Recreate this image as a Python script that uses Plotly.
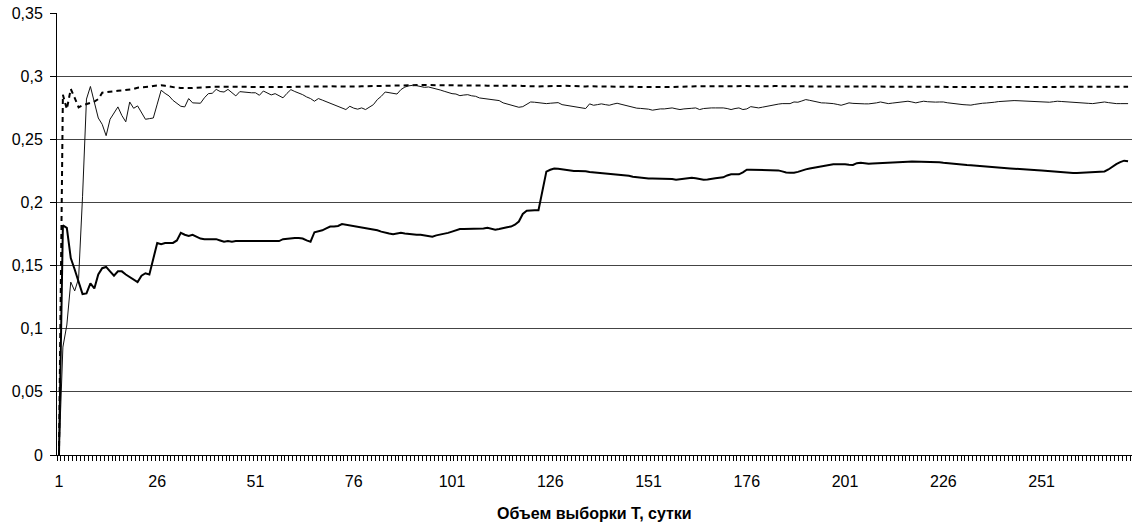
import plotly.graph_objects as go

# Series values, one per day (category 1..273)
thick = [
    0, 0.182, 0.180, 0.156, 0.147, 0.138, 0.1275, 0.128, 0.136, 0.132,
    0.143, 0.148, 0.149, 0.1455, 0.142, 0.1455, 0.1455, 0.143, 0.141, 0.139,
    0.137, 0.142, 0.144, 0.143, 0.155, 0.168, 0.167, 0.168, 0.168, 0.168,
    0.170, 0.176, 0.1745, 0.1735, 0.1745, 0.173, 0.1715, 0.171, 0.171, 0.171,
    0.171, 0.170, 0.169, 0.1695, 0.169, 0.1695, 0.1695, 0.1695, 0.1695, 0.1695,
    0.1695, 0.170, 0.170, 0.1695, 0.1695, 0.1695, 0.1695, 0.171, 0.1715, 0.172,
    0.172, 0.172, 0.1715, 0.170, 0.169, 0.1765, 0.177, 0.178, 0.1795, 0.181,
    0.181, 0.1815, 0.183, 0.1825, 0.182, 0.1815, 0.181, 0.180, 0.1795, 0.179,
    0.1785, 0.178, 0.177, 0.176, 0.1755, 0.175, 0.1755, 0.176, 0.1755, 0.175,
    0.175, 0.1745, 0.1745, 0.174, 0.1735, 0.173, 0.174, 0.1745, 0.175, 0.176,
    0.177, 0.178, 0.179, 0.179, 0.179, 0.179, 0.179, 0.179, 0.1795, 0.180,
    0.179, 0.1785, 0.179, 0.180, 0.1805, 0.181, 0.1825, 0.185, 0.191, 0.1935,
    0.194, 0.194, 0.194, 0.209, 0.2245, 0.226, 0.227, 0.2268, 0.2263, 0.226,
    0.2255, 0.225, 0.225, 0.225, 0.2248, 0.2243, 0.224, 0.2238, 0.2237, 0.2232,
    0.2228, 0.2224, 0.2222, 0.222, 0.2216, 0.2212, 0.2205, 0.220, 0.2197, 0.2193,
    0.219, 0.219, 0.219, 0.219, 0.219, 0.219, 0.2186, 0.218, 0.2184, 0.219,
    0.219, 0.2197, 0.2192, 0.2186, 0.218, 0.2183, 0.219, 0.2193, 0.2197, 0.220,
    0.2215, 0.2224, 0.2224, 0.2224, 0.224, 0.226, 0.226, 0.226, 0.226, 0.226,
    0.226, 0.226, 0.226, 0.2255, 0.2247, 0.2238, 0.2237, 0.2237, 0.2243, 0.2255,
    0.2263, 0.227, 0.2276, 0.2283, 0.229, 0.2297, 0.230, 0.2303, 0.2303, 0.2305,
    0.2303, 0.230, 0.2298, 0.2312, 0.2316, 0.2312, 0.2308, 0.231, 0.2312, 0.2315,
    0.2314, 0.2318, 0.232, 0.232, 0.2322, 0.2323, 0.2324, 0.2325, 0.2325, 0.2326,
    0.2326, 0.2325, 0.2324, 0.2322, 0.232, 0.2316, 0.2312, 0.2309, 0.2305, 0.2302,
    0.2299, 0.2297, 0.2295, 0.2292, 0.229, 0.2287, 0.2284, 0.2281, 0.2278, 0.2275,
    0.2273, 0.2271, 0.227, 0.2268, 0.2267, 0.2265, 0.2263, 0.2261, 0.226, 0.2257,
    0.2255, 0.2252, 0.2249, 0.2247, 0.2245, 0.2242, 0.224, 0.2237, 0.2234, 0.2235,
    0.2237, 0.2237, 0.2238, 0.224, 0.2242, 0.2244, 0.2247, 0.2262, 0.2285, 0.2305,
    0.232, 0.2332, 0.2328,
]

thin = [
    0, 0.0855, 0.103, 0.137, 0.130, 0.140, 0.205, 0.282, 0.292, 0.279,
    0.267, 0.262, 0.253, 0.266, 0.271, 0.2758, 0.269, 0.264, 0.2797, 0.2747,
    0.2766, 0.271, 0.266, 0.2665, 0.267, 0.278, 0.289, 0.2865, 0.2845, 0.281,
    0.279, 0.2763, 0.2758, 0.2824, 0.279, 0.2788, 0.2787, 0.283, 0.2863, 0.2866,
    0.2897, 0.288, 0.2876, 0.2897, 0.287, 0.2845, 0.2879, 0.2875, 0.287, 0.287,
    0.287, 0.285, 0.2884, 0.287, 0.2853, 0.2863, 0.2847, 0.283, 0.2865, 0.2895,
    0.288, 0.2868, 0.2855, 0.2837, 0.2824, 0.2803, 0.2824, 0.2812, 0.28, 0.279,
    0.2778, 0.2763, 0.2748, 0.2737, 0.2763, 0.2748, 0.274, 0.275, 0.2737, 0.2755,
    0.2776, 0.2816, 0.2842, 0.2876, 0.287, 0.2865, 0.286, 0.2895, 0.2915, 0.2925,
    0.2929, 0.2926, 0.2918, 0.2913, 0.2916, 0.291, 0.2903, 0.2892, 0.2882, 0.287,
    0.2863, 0.286, 0.2847, 0.2852, 0.2855, 0.2846, 0.2842, 0.2829, 0.2824, 0.2822,
    0.282, 0.2812, 0.2808, 0.279, 0.2782, 0.2774, 0.2768, 0.2755, 0.276, 0.2778,
    0.2797, 0.2795, 0.2792, 0.2786, 0.2784, 0.2787, 0.279, 0.2792, 0.2776, 0.2771,
    0.2766, 0.2762, 0.2758, 0.275, 0.2745, 0.2782, 0.2771, 0.2776, 0.2782, 0.2776,
    0.2771, 0.278, 0.2787, 0.2779, 0.2771, 0.276, 0.275, 0.2748, 0.2746, 0.2745,
    0.274, 0.2732, 0.2738, 0.2742, 0.2742, 0.2746, 0.275, 0.2743, 0.2737, 0.2742,
    0.2742, 0.2747, 0.275, 0.2737, 0.2745, 0.275, 0.275, 0.275, 0.2752, 0.275,
    0.2745, 0.2737, 0.2745, 0.275, 0.2737, 0.2742, 0.276, 0.2755, 0.275, 0.2756,
    0.2763, 0.277, 0.2776, 0.278, 0.2784, 0.2784, 0.2784, 0.2797, 0.2795, 0.2805,
    0.2816, 0.281, 0.2803, 0.2797, 0.279, 0.2789, 0.2788, 0.2784, 0.2778, 0.2771,
    0.278, 0.279, 0.2786, 0.2783, 0.2782, 0.2782, 0.2782, 0.2784, 0.279, 0.2797,
    0.2792, 0.2784, 0.2788, 0.2792, 0.2795, 0.2799, 0.2803, 0.2797, 0.279, 0.2797,
    0.2803, 0.2799, 0.2795, 0.2796, 0.2797, 0.2797, 0.2791, 0.2786, 0.2782, 0.2779,
    0.2776, 0.2774, 0.2772, 0.2778, 0.2784, 0.2787, 0.2789, 0.279, 0.2795, 0.28,
    0.2803, 0.2805, 0.2806, 0.2808, 0.2807, 0.2805, 0.2803, 0.2801, 0.2799, 0.2797,
    0.2796, 0.2795, 0.2795, 0.2799, 0.2803, 0.2801, 0.2798, 0.2796, 0.2795, 0.2793,
    0.2791, 0.2789, 0.2786, 0.2784, 0.2788, 0.2793, 0.2797, 0.2792, 0.2787, 0.2784,
    0.2784, 0.2784, 0.2784,
]

dashed = [
    0, 0.2855, 0.274, 0.290, 0.283, 0.2755, 0.277, 0.278, 0.279, 0.280,
    0.282, 0.287, 0.2875, 0.288, 0.2884, 0.2886, 0.2888, 0.289, 0.2895, 0.290,
    0.291, 0.2912, 0.2915, 0.2918, 0.2924, 0.2927, 0.293, 0.2925, 0.2918, 0.2912,
    0.291, 0.2908, 0.2906, 0.2905, 0.2907, 0.291, 0.2913, 0.2916, 0.2916, 0.2917,
    0.2917, 0.2916, 0.2916, 0.2915, 0.2916, 0.2917, 0.2917, 0.2916, 0.2915, 0.2916,
    0.2917, 0.2917, 0.2916, 0.2916, 0.2917, 0.2918, 0.2918, 0.2917, 0.2916, 0.2916,
    0.2918, 0.292, 0.2921, 0.2921, 0.292, 0.2919, 0.2918, 0.2919, 0.292, 0.2921,
    0.2922, 0.2921, 0.292, 0.2919, 0.2918, 0.2919, 0.292, 0.2921, 0.2922, 0.2923,
    0.2924, 0.2925, 0.2926, 0.2927, 0.2928, 0.2929, 0.293, 0.2931, 0.2932, 0.2932,
    0.2933, 0.2933, 0.2932, 0.2932, 0.2931, 0.293, 0.293, 0.2929, 0.2928, 0.2927,
    0.2926, 0.2926, 0.2927, 0.2928, 0.2928, 0.2929, 0.2929, 0.2928, 0.2927, 0.2926,
    0.2926, 0.2927, 0.2928, 0.2929, 0.293, 0.2929, 0.2928, 0.2926, 0.2924, 0.2922,
    0.2921, 0.292, 0.292, 0.2921, 0.2922, 0.2924, 0.2926, 0.2927, 0.2926, 0.2925,
    0.2924, 0.2922, 0.2921, 0.292, 0.292, 0.2921, 0.2922, 0.2922, 0.2921, 0.292,
    0.2919, 0.2918, 0.2918, 0.2919, 0.292, 0.2919, 0.2918, 0.2917, 0.2916, 0.2916,
    0.2917, 0.2918, 0.2918, 0.2917, 0.2916, 0.2915, 0.2915, 0.2916, 0.2917, 0.2918,
    0.2919, 0.292, 0.2921, 0.2922, 0.2923, 0.2924, 0.2924, 0.2923, 0.2922, 0.2922,
    0.2923, 0.2924, 0.2925, 0.2925, 0.2924, 0.2923, 0.2922, 0.2921, 0.292, 0.292,
    0.2921, 0.2922, 0.2923, 0.2924, 0.2924, 0.2923, 0.2922, 0.2921, 0.2921, 0.2922,
    0.2923, 0.2923, 0.2922, 0.2921, 0.292, 0.292, 0.2921, 0.2922, 0.2922, 0.2921,
    0.292, 0.2919, 0.2919, 0.292, 0.2921, 0.292, 0.2919, 0.2918, 0.2918, 0.2919,
    0.292, 0.292, 0.2919, 0.2918, 0.2918, 0.2917, 0.2917, 0.2918, 0.2919, 0.2919,
    0.2918, 0.2917, 0.2917, 0.2918, 0.2918, 0.2917, 0.2916, 0.2916, 0.2917, 0.2918,
    0.2918, 0.2917, 0.2917, 0.2918, 0.2918, 0.2917, 0.2916, 0.2916, 0.2917, 0.2917,
    0.2918, 0.2918, 0.2917, 0.2916, 0.2916, 0.2917, 0.2917, 0.2918, 0.2918, 0.2917,
    0.2917, 0.2916, 0.2916, 0.2917, 0.2918, 0.2918, 0.2917, 0.2917, 0.2916, 0.2916,
    0.2917, 0.2917, 0.2918, 0.2918, 0.2917, 0.2916, 0.2916, 0.2917, 0.2917, 0.2918,
    0.2918, 0.2917, 0.2917,
]

x_tick_labels = ["1", "26", "51", "76", "101", "126", "151", "176", "201", "226", "251"]
y_tick_values = [0, 0.05, 0.1, 0.15, 0.2, 0.25, 0.3, 0.35]
x_title = "Объем выборки Т, сутки"

FONT = "Liberation Sans, Arial, sans-serif"

fig = go.Figure()
fig.add_trace(go.Scatter(
    x=list(range(1, len(dashed) + 1)), y=dashed, mode="lines",
    line=dict(color="black", width=2, dash="5px,4px"), hoverinfo="skip"))
fig.add_trace(go.Scatter(
    x=list(range(1, len(thin) + 1)), y=thin, mode="lines",
    line=dict(color="#111111", width=1), hoverinfo="skip"))
fig.add_trace(go.Scatter(
    x=list(range(1, len(thick) + 1)), y=thick, mode="lines",
    line=dict(color="black", width=2), hoverinfo="skip"))

fig.update_layout(
    width=1132, height=525,
    margin=dict(l=57, r=0, t=13, b=70),
    paper_bgcolor="white", plot_bgcolor="white",
    showlegend=False,
    separators=", ",
    font=dict(family=FONT, size=16, color="black"),
    xaxis=dict(
        range=[0.5, 274],
        tickmode="array",
        tickvals=[int(t) for t in x_tick_labels],
        ticktext=x_tick_labels,
        ticks="",
        ticklabelstandoff=12,
        showgrid=False, zeroline=False,
        showline=True, linecolor="black", linewidth=1,
        minor=dict(ticks="outside", ticklen=5, tick0=0.5, dtick=1,
                   tickcolor="black", tickwidth=1, showgrid=False),
        tickfont=dict(size=16),
    ),
    yaxis=dict(
        range=[0, 0.3502],
        tickmode="array",
        tickvals=y_tick_values,
        ticks="outside", ticklen=6, tickcolor="black",
        ticklabelstandoff=4,
        showgrid=True, gridcolor="#444444", gridwidth=1,
        zeroline=False,
        showline=True, linecolor="black", linewidth=1,
        tickfont=dict(size=16),
    ),
    annotations=[dict(
        text="<b>" + x_title + "</b>", xref="paper", yref="paper",
        x=0.5, y=-(513 - 455) / 442, xanchor="center", yanchor="middle",
        showarrow=False, font=dict(size=16, family=FONT),
    )],
)

fig.write_html("out.html", config={"displayModeBar": False},
               post_script="document.body.style.margin='0';document.body.style.overflow='hidden';")
